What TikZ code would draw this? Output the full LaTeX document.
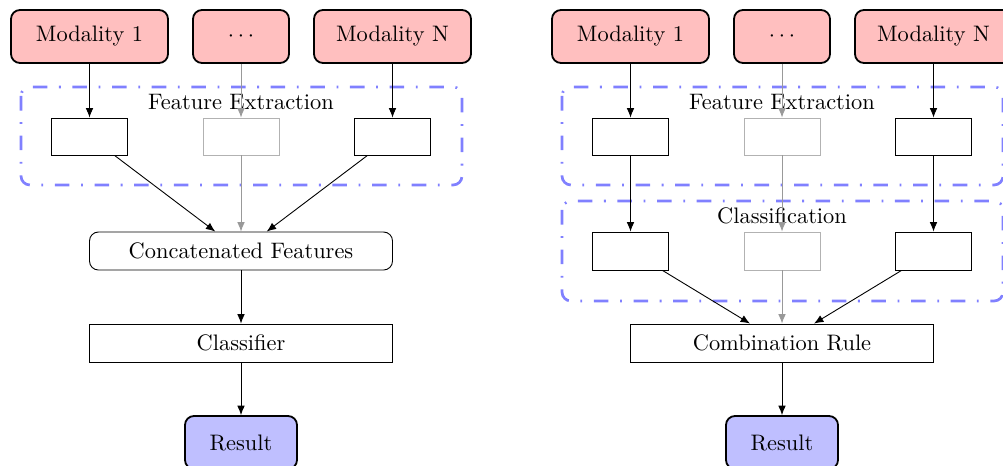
\documentclass[tikz,border=0pt]{standalone}
\usetikzlibrary{arrows.meta}
% one drawing unit
\newcommand{\pxu}{0.4464pt}
\begin{document}
\begin{tikzpicture}[x=\pxu, y=-\pxu,
  modality/.style={draw, thick, rounded corners=4pt, fill=red!25, inner sep=0pt,
    minimum height=53*\pxu},
  resultbox/.style={draw, thick, rounded corners=4pt, fill=blue!25, inner sep=0pt,
    minimum width=112*\pxu, minimum height=53*\pxu},
  featbox/.style={draw, inner sep=0pt, minimum width=76*\pxu, minimum height=37*\pxu},
  widebox/.style={draw, inner sep=0pt, minimum width=303*\pxu, minimum height=38*\pxu},
  faded/.style={draw=black!30},
  group/.style={draw=blue!50, line width=1.2pt, rounded corners=4pt,
    dash pattern=on 6.5pt off 5.2pt on 0.8pt off 5.2pt},
  grouplabel/.style={anchor=base, inner sep=0pt},
  conn/.style={-{Latex[length=4.2pt, width=3.4pt]}},
  fadedconn/.style={conn, draw=black!40}
]
\useasboundingbox (0,0) rectangle (1003,465);

% ---------- feature-level fusion ----------
\draw[group] (21,87) rectangle (462,185);
\node[grouplabel] (feA) at (241,109) {Feature Extraction};

\node[modality, minimum width=157*\pxu] (mA1) at (89.5,36.5) {Modality 1};
\node[modality, minimum width=96*\pxu]  (mA2) at (241,36.5) {$\cdots$};
\node[modality, minimum width=157*\pxu] (mA3) at (392.5,36.5) {Modality N};

\node[featbox] (fA1) at (89.5,136.5) {};
\node[featbox, faded] (fA2) at (241,136.5) {};
\node[featbox] (fA3) at (392.5,136.5) {};

\node[widebox, rounded corners=4pt] (concat) at (241,251) {Concatenated Features};
\node[widebox] (classifier) at (241,343) {Classifier};
\node[resultbox] (resA) at (241,442.5) {Result};

\draw[conn] (mA1) -- (fA1);
\draw[fadedconn] (mA2) -- (fA2);
\draw[conn] (mA3) -- (fA3);
\draw[conn] (fA1) -- (concat);
\draw[fadedconn] (fA2) -- (concat);
\draw[conn] (fA3) -- (concat);
\draw[conn] (concat) -- (classifier);
\draw[conn] (classifier) -- (resA);

% ---------- decision-level fusion ----------
\draw[group] (562,87) rectangle (1003,185);
\draw[group] (562,201) rectangle (1003,301);
\node[grouplabel] (feB) at (782,109) {Feature Extraction};
\node[grouplabel] (clB) at (782,223) {Classification};

\node[modality, minimum width=157*\pxu] (mB1) at (630.5,36.5) {Modality 1};
\node[modality, minimum width=96*\pxu]  (mB2) at (782,36.5) {$\cdots$};
\node[modality, minimum width=157*\pxu] (mB3) at (933.5,36.5) {Modality N};

\node[featbox] (fB1) at (630.5,136.5) {};
\node[featbox, faded] (fB2) at (782,136.5) {};
\node[featbox] (fB3) at (933.5,136.5) {};

\node[featbox, minimum height=38*\pxu] (cB1) at (630.5,251) {};
\node[featbox, minimum height=38*\pxu, faded] (cB2) at (782,251) {};
\node[featbox, minimum height=38*\pxu] (cB3) at (933.5,251) {};

\node[widebox] (comb) at (782,343) {Combination Rule};
\node[resultbox] (resB) at (782,442.5) {Result};

\draw[conn] (mB1) -- (fB1);
\draw[fadedconn] (mB2) -- (fB2);
\draw[conn] (mB3) -- (fB3);
\draw[conn] (fB1) -- (cB1);
\draw[fadedconn] (fB2) -- (cB2);
\draw[conn] (fB3) -- (cB3);
\draw[conn] (cB1) -- (comb);
\draw[fadedconn] (cB2) -- (comb);
\draw[conn] (cB3) -- (comb);
\draw[conn] (comb) -- (resB);
\end{tikzpicture}
\end{document}
